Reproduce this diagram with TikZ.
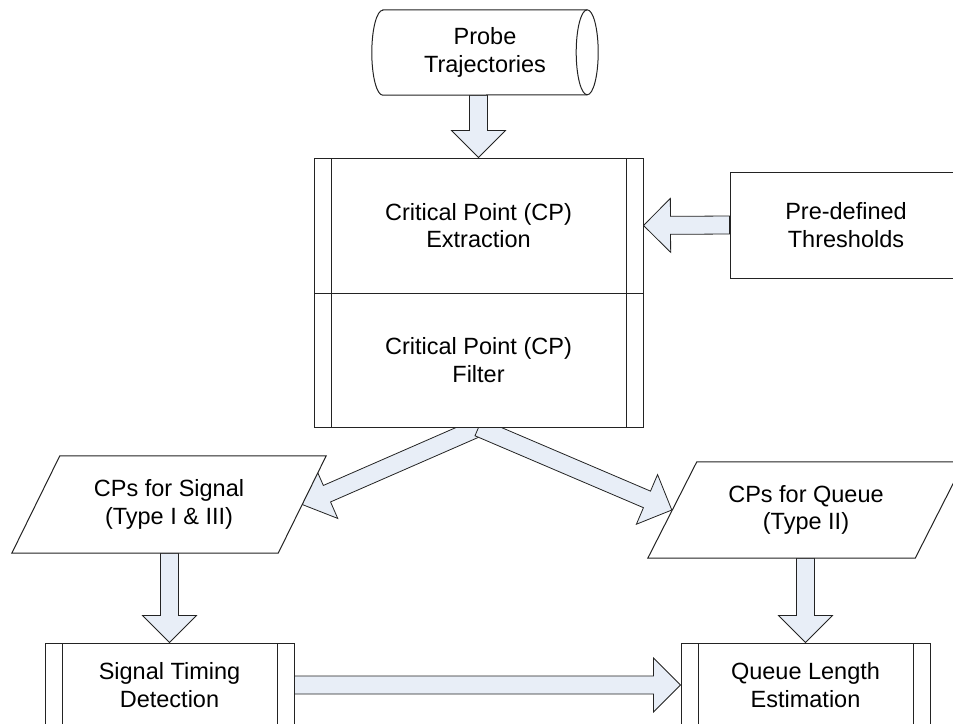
\documentclass[tikz,border=0pt]{standalone}
\usepackage{fontspec}
\setmainfont{Liberation Sans}
\usetikzlibrary{calc}
\definecolor{arrowfill}{RGB}{232,238,247}
\definecolor{linecol}{RGB}{35,35,35}
\pgfdeclarelayer{arrows}
\pgfdeclarelayer{shapes}
\pgfsetlayers{arrows,shapes,main}
\tikzset{
  lbl/.style={font=\fontsize{23.5}{27.5}\selectfont, align=center, text=black, inner sep=0pt},
  ppbox/.style={lbl, draw=linecol, fill=white, line width=1pt, rectangle,
    path picture={
      \draw[linecol, line width=1pt] ([xshift=17pt]path picture bounding box.north west) -- ([xshift=17pt]path picture bounding box.south west);
      \draw[linecol, line width=1pt] ([xshift=-17pt]path picture bounding box.north east) -- ([xshift=-17pt]path picture bounding box.south east);
    }},
  plainbox/.style={lbl, draw=linecol, fill=white, line width=1pt, rectangle},
  outline/.style={draw=linecol, fill=white, line width=1pt, line join=miter},
  blockarrow/.style={draw=linecol, line width=0.8pt, fill=arrowfill, line join=miter,
    to path={let \p1=(\tikztostart),\p2=(\tikztotarget),
      \n1={atan2(\y2-\y1,\x2-\x1)},\n2={veclen(\x2-\x1,\y2-\y1)} in
      ($(\tikztostart)+(\n1+90:9)$) -- ++(\n1:{\n2-27}) -- ++(\n1+90:18)
      -- (\tikztotarget) -- ($(\tikztotarget)+(\n1+180:27)+(\n1-90:27)$)
      -- ++(\n1+90:18) -- ++(\n1+180:{\n2-27}) -- cycle}}
}
\begin{document}
\begin{tikzpicture}[x=1pt,y=1pt]
\useasboundingbox (0,0) rectangle (953,-723);

% nodes
\node[lbl, minimum width=204pt, minimum height=85pt] (probe) at (485,-52.5) {Probe\\Trajectories};
\node[ppbox, minimum width=329pt, minimum height=135pt] (ext) at (478.5,-225.5) {Critical Point (CP)\\Extraction};
\node[ppbox, minimum width=329pt, minimum height=134pt] (fil) at (478.5,-360) {Critical Point (CP)\\Filter};
\node[plainbox, minimum width=232pt, minimum height=106pt] (thr) at (846,-225) {Pre-defined\\Thresholds};
\node[lbl, minimum width=314pt, minimum height=97pt] (sig) at (169,-504.5) {CPs for Signal\\(Type I \& III)};
\node[lbl, minimum width=316pt, minimum height=96pt] (que) at (806,-510) {CPs for Queue\\(Type II)};
\node[ppbox, minimum width=249pt, minimum height=84pt] (std) at (169.5,-685) {Signal Timing\\Detection};
\node[ppbox, minimum width=249pt, minimum height=84pt] (qle) at (805.5,-685) {Queue Length\\Estimation};

% helper coordinates
\coordinate (probeB) at (probe.south -| ext.north);
\coordinate (sigR) at ($(sig.east)+(-24,0)$);
\coordinate (queL) at ($(que.west)+(24,0)$);
\coordinate (sigB) at (sig.south -| std.north);
\coordinate (queB) at (que.south -| qle.north);

% custom outlines
\begin{pgfonlayer}{shapes}
  \draw[outline] (probe.north west) -- (probe.north east)
    arc[start angle=90, end angle=-90, x radius=11, y radius=42.5]
    -- (probe.south west)
    arc[start angle=270, end angle=90, x radius=11, y radius=42.5] -- cycle;
  \draw[linecol, line width=1pt] (probe.north east)
    arc[start angle=90, end angle=270, x radius=11, y radius=42.5];
  \draw[outline] ($(sig.north west)+(48,0)$) -- (sig.north east)
    -- ($(sig.south east)+(-48,0)$) -- (sig.south west) -- cycle;
  \draw[outline] ($(que.north west)+(49,0)$) -- (que.north east)
    -- ($(que.south east)+(-49,0)$) -- (que.south west) -- cycle;
\end{pgfonlayer}

% block arrows
\begin{pgfonlayer}{arrows}
  \draw[blockarrow] (probeB) to (ext.north);
  \draw[blockarrow] (thr.west) to (ext.east);
  \draw[blockarrow] (fil.south) to (sigR);
  \draw[blockarrow] (fil.south) to (queL);
  \draw[blockarrow] (sigB) to (std.north);
  \draw[blockarrow] (queB) to (qle.north);
  \draw[blockarrow] (std.east) to (qle.west);
\end{pgfonlayer}
\end{tikzpicture}
\end{document}
